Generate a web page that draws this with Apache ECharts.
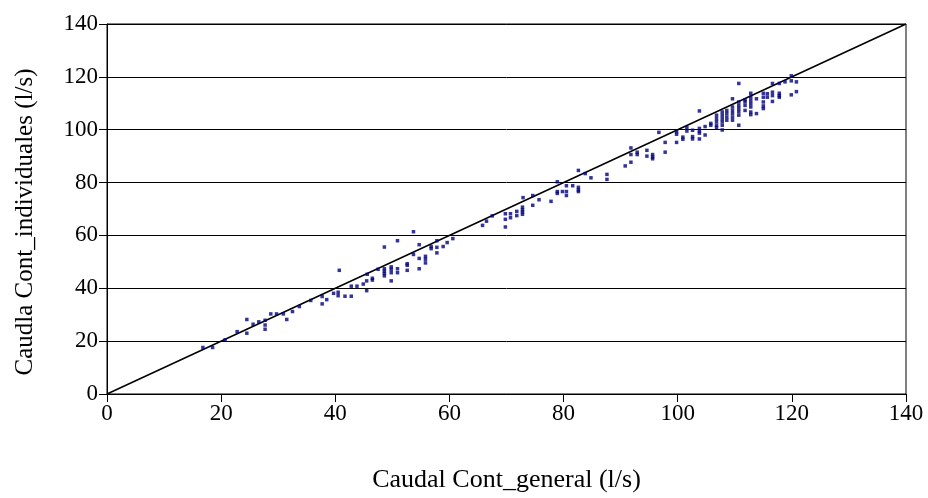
<!DOCTYPE html>
<html>
<head>
<meta charset="utf-8">
<script src="https://cdn.jsdelivr.net/npm/echarts@6/dist/echarts.min.js"></script>
<style>html,body{margin:0;padding:0;background:#fff}#c{width:928px;height:498px}</style>
</head>
<body>
<div id="c"></div>
<script>
var xTitle = "Caudal Cont_general (l/s)";
var yTitle = "Caudla Cont_individuales (l/s)";
var axisMin = 0, axisMax = 140, axisStep = 20;
var refLine = [[0, 0], [140, 140]];

var general = [
16.8,18.5,20.7,22.8,24.5,24.5,25.6,26.6,27.7,27.7,27.7,28.7,29.7,30.9,31.5,32.5,33.7,35.7,37.7,37.7,
38.5,39.7,40.5,40.5,40.7,41.7,42.8,42.8,43.8,44.9,45.5,45.5,45.6,46.5,46.5,47.5,48.6,48.6,48.6,48.6,
48.6,49.8,49.8,49.8,49.8,50.9,50.9,50.9,52.6,52.6,52.6,53.7,53.7,54.7,54.7,54.7,55.8,55.8,55.8,56.8,
56.8,57.8,57.8,57.8,58.9,59.6,60.6,65.8,66.5,67.5,69.8,69.8,69.8,70.7,70.7,71.8,71.8,72.8,72.8,72.8,
72.8,72.9,74.6,74.6,75.7,77.8,78.9,78.9,78.9,79.8,80.5,80.5,80.5,81.6,82.6,82.6,82.6,82.6,83.8,84.8,
87.6,87.6,90.8,91.8,91.8,91.8,92.9,92.9,94.6,94.6,95.6,95.6,95.6,96.7,97.8,97.8,99.8,99.8,99.8,100.9,
100.9,101.6,101.6,102.6,102.6,102.6,103.8,103.8,103.8,103.8,103.8,104.8,104.8,105.8,105.8,106.8,106.8,106.8,106.8,106.8,
107.8,107.8,107.8,107.8,107.8,107.8,108.6,108.6,108.6,108.6,109.6,109.6,109.6,109.6,109.6,109.6,110.7,110.7,110.7,110.7,
110.7,110.7,110.7,111.8,111.8,111.8,111.8,112.8,112.8,112.8,112.8,112.8,112.8,112.8,113.8,113.8,115.0,115.0,115.0,115.0,
115.0,115.7,115.7,116.6,116.6,116.6,116.6,117.8,117.8,117.8,117.8,118.8,119.9,119.9,119.9,120.8,120.8
];
var individuales = [
17.6,17.6,20.5,23.6,28.2,23.0,26.4,27.3,27.9,26.1,24.5,30.3,30.3,30.3,28.2,31.2,33.1,35.4,36.9,34.1,
35.7,38.1,38.5,37.2,46.8,37.0,37.0,40.8,40.8,41.6,42.8,39.1,45.3,43.8,43.1,47.2,47.4,46.5,45.6,44.7,
55.6,48.1,47.2,45.9,42.8,47.4,45.9,58.0,49.3,48.7,46.8,61.4,52.8,56.5,51.3,47.4,52.1,51.0,49.6,55.8,
55.0,55.5,53.4,58.0,55.8,57.3,58.8,63.8,65.4,67.4,68.2,66.1,63.2,68.2,66.7,69.1,67.5,70.7,69.7,68.9,
68.0,74.3,75.1,71.4,73.5,72.9,80.3,76.6,75.9,76.6,78.8,76.6,75.1,78.8,78.2,77.2,76.6,84.6,83.4,81.8,
83.1,81.2,86.3,93.1,90.6,87.7,91.5,90.6,92.2,90.0,90.6,89.7,89.0,99.0,95.2,91.5,99.3,98.3,95.2,97.2,
96.4,100.8,99.5,99.8,97.4,96.5,107.1,100.5,99.5,98.7,96.5,101.2,98.0,102.4,101.7,105.5,104.2,103.0,101.7,100.8,
106.7,105.5,104.2,103.0,101.7,99.9,107.3,106.1,104.8,103.6,108.6,107.3,106.1,104.8,103.6,111.7,117.5,110.5,109.2,108.0,
106.8,105.5,101.7,111.3,110.5,109.2,107.3,113.8,112.3,111.0,109.8,108.6,106.7,105.7,111.7,106.1,113.8,112.3,110.5,109.0,
108.0,113.6,112.3,117.5,114.2,112.9,110.7,117.5,113.8,112.9,112.3,118.1,118.5,120.4,113.2,118.1,114.4
];

var points = general.map(function (g, i) { return [g, individuales[i]]; });
var serif = "'Liberation Serif','Times New Roman',serif";

var chart = echarts.init(document.getElementById('c'), null, {renderer: 'canvas'});
chart.setOption({
  animation: false,
  backgroundColor: '#ffffff',
  grid: {left: 107, right: 22, top: 24, bottom: 98, show: true, borderColor: '#000', borderWidth: 1, backgroundColor: 'transparent'},
  xAxis: {
    type: 'value', min: axisMin, max: axisMax, interval: axisStep,
    name: xTitle, nameLocation: 'middle', nameGap: 73,
    nameTextStyle: {fontFamily: serif, fontSize: 26, color: '#000'},
    axisLine: {show: true, lineStyle: {color: '#000', width: 1}},
    axisTick: {show: true, inside: false, length: 8, lineStyle: {color: '#000'}},
    axisLabel: {fontFamily: serif, fontSize: 23, color: '#000', margin: 8},
    splitLine: {show: false}
  },
  yAxis: {
    type: 'value', min: axisMin, max: axisMax, interval: axisStep,
    name: yTitle, nameLocation: 'middle', nameGap: 69,
    nameTextStyle: {fontFamily: serif, fontSize: 25, color: '#000', padding: [0, 26, 0, 0]},
    axisLine: {show: true, lineStyle: {color: '#000', width: 1}},
    axisTick: {show: true, inside: false, length: 8, lineStyle: {color: '#000'}},
    axisLabel: {fontFamily: serif, fontSize: 23, color: '#000', margin: 9},
    splitLine: {show: true, lineStyle: {color: '#000', width: 1}}
  },
  series: [
    {
      type: 'line', data: refLine, symbol: 'none', silent: true,
      lineStyle: {color: '#000', width: 1.5}, z: 3
    },
    {
      type: 'scatter', data: points, symbol: 'rect', symbolSize: 3.5,
      itemStyle: {color: '#000080'}, z: 4
    }
  ]
});
</script>
</body>
</html>
